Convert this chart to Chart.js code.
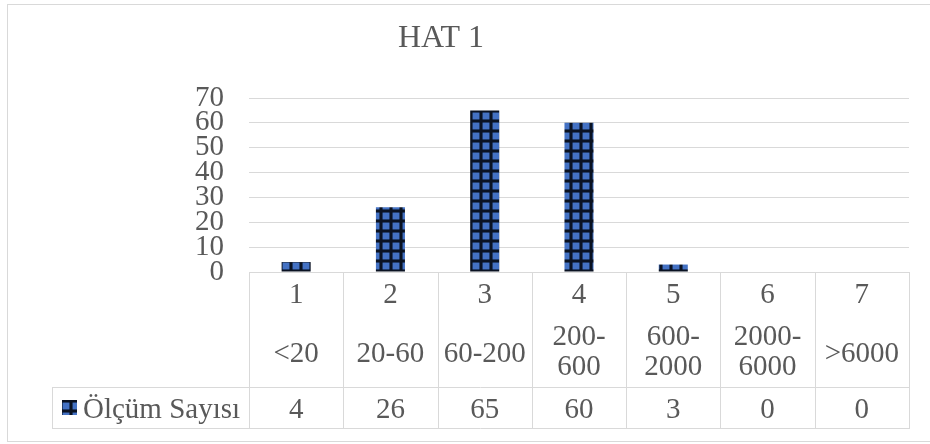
<!DOCTYPE html>
<html>
<head>
<meta charset="utf-8">
<title>HAT 1</title>
<script src="https://cdn.jsdelivr.net/npm/chart.js@4/dist/chart.umd.min.js"></script>
<style>
  html, body { margin: 0; padding: 0; background: #ffffff; }
  #chart { display: block; }
</style>
</head>
<body>
<canvas id="chart" width="930" height="444"></canvas>
<script>
const TITLE = "HAT 1";
const SERIES_NAME = "Ölçüm Sayısı";
const CLASS_NUMBERS = ["1", "2", "3", "4", "5", "6", "7"];
const CLASS_RANGES = [["<20"], ["20-60"], ["60-200"], ["200-", "600"], ["600-", "2000"], ["2000-", "6000"], [">6000"]];
const COUNTS = [4, 26, 65, 60, 3, 0, 0];
const Y_TICKS = [0, 10, 20, 30, 40, 50, 60, 70];

const TEXT_COLOR = "#595959";
const LINE_COLOR = "#d9d9d9";
const FONT_FAMILY = "'Liberation Serif', 'Times New Roman', serif";

// blue fill with a dark large-grid pattern, like the Excel bars
function makeGridPattern() {
  const tile = document.createElement("canvas");
  tile.width = 10;
  tile.height = 10;
  const t = tile.getContext("2d");
  t.fillStyle = "#4472c4";
  t.fillRect(0, 0, 10, 10);
  t.fillStyle = "rgba(10, 18, 34, 0.55)";
  t.fillRect(0, 9, 10, 1);
  t.fillRect(9, 0, 1, 10);
  t.fillRect(0, 2, 10, 1);
  t.fillRect(2, 0, 1, 10);
  t.fillStyle = "#0a1222";
  t.fillRect(0, 0, 10, 2);
  t.fillRect(0, 0, 2, 10);
  return t.createPattern(tile, "repeat");
}

const gridFill = makeGridPattern();

const tablePlugin = {
  id: "dataTable",
  beforeDraw(chart) {
    const ctx = chart.ctx;
    ctx.save();
    ctx.strokeStyle = LINE_COLOR;
    ctx.lineWidth = 1;
    ctx.strokeRect(7.5, 4.5, 950, 437);
    ctx.restore();
  },
  afterDraw(chart) {
    const ctx = chart.ctx;
    const { left, right, bottom } = chart.chartArea;
    const xScale = chart.scales.x;
    const colW = (right - left) / CLASS_NUMBERS.length;
    const catBottom = bottom + 115;
    const rowBottom = bottom + 156;
    const legendLeft = 52;

    ctx.save();
    // title
    ctx.fillStyle = TEXT_COLOR;
    ctx.font = `32px ${FONT_FAMILY}`;
    ctx.textAlign = "center";
    ctx.textBaseline = "alphabetic";
    ctx.fillText(TITLE, 441, 47);

    // table lines
    ctx.strokeStyle = LINE_COLOR;
    ctx.lineWidth = 1;
    ctx.beginPath();
    ctx.moveTo(left, bottom + 0.5);
    ctx.lineTo(right, bottom + 0.5);
    ctx.moveTo(legendLeft, catBottom + 0.5);
    ctx.lineTo(right, catBottom + 0.5);
    ctx.moveTo(legendLeft, rowBottom + 0.5);
    ctx.lineTo(right, rowBottom + 0.5);
    for (let k = 0; k <= CLASS_NUMBERS.length; k++) {
      const x = Math.round(left + k * colW) + 0.5;
      ctx.moveTo(x, bottom);
      ctx.lineTo(x, rowBottom + 1);
    }
    ctx.moveTo(legendLeft + 0.5, catBottom);
    ctx.lineTo(legendLeft + 0.5, rowBottom + 1);
    ctx.stroke();

    // cell texts
    ctx.fillStyle = TEXT_COLOR;
    ctx.font = `29px ${FONT_FAMILY}`;
    ctx.textAlign = "center";
    CLASS_NUMBERS.forEach((label, i) => {
      const cx = xScale.getPixelForValue(i);
      ctx.fillText(label, cx, bottom + 31);
      const lines = CLASS_RANGES[i];
      if (lines.length === 1) {
        ctx.fillText(lines[0], cx, bottom + 90);
      } else {
        ctx.fillText(lines[0], cx, bottom + 73);
        ctx.fillText(lines[1], cx, bottom + 103);
      }
      ctx.fillText(String(COUNTS[i]), cx, bottom + 146);
    });

    // legend key and series name
    ctx.fillStyle = gridFill;
    ctx.fillRect(62, bottom + 128, 15, 15);
    ctx.fillStyle = TEXT_COLOR;
    ctx.textAlign = "left";
    ctx.fillText(SERIES_NAME, 83, bottom + 146);
    ctx.restore();
  },
};

new Chart(document.getElementById("chart"), {
  type: "bar",
  data: {
    labels: CLASS_NUMBERS,
    datasets: [
      {
        label: SERIES_NAME,
        data: COUNTS,
        backgroundColor: gridFill,
        borderWidth: 0,
        barPercentage: 0.308,
        categoryPercentage: 1,
      },
    ],
  },
  options: {
    responsive: false,
    animation: false,
    devicePixelRatio: 1,
    layout: {
      padding: { top: 98, right: 21, bottom: 172, left: 0 },
    },
    scales: {
      x: {
        display: false,
      },
      y: {
        min: 0,
        max: 70,
        afterBuildTicks: (scale) => {
          scale.ticks = Y_TICKS.map((value) => ({ value }));
        },
        afterFit: (scale) => {
          scale.width = 249;
        },
        border: { display: false },
        grid: {
          color: LINE_COLOR,
          lineWidth: 1,
          drawTicks: false,
        },
        ticks: {
          autoSkip: false,
          padding: 25,
          color: TEXT_COLOR,
          font: { family: FONT_FAMILY, size: 29, lineHeight: 0.85 },
        },
      },
    },
    plugins: {
      legend: { display: false },
      title: { display: false },
      tooltip: { enabled: false },
    },
  },
  plugins: [tablePlugin],
});
</script>
</body>
</html>
